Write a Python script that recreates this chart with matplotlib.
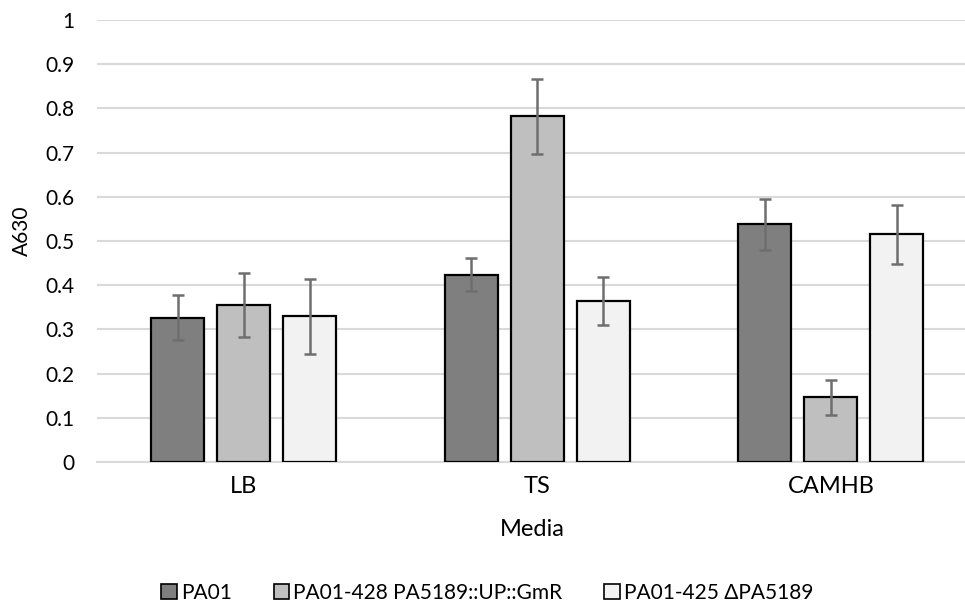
import numpy as np
import matplotlib.pyplot as plt
from matplotlib.patches import Patch

plt.rcParams['font.family'] = ['Lato', 'DejaVu Sans']

media = ['LB', 'TS', 'CAMHB']
strains = ['PA01', 'PA01-428 PA5189::UP::GmR', 'PA01-425 \u0394PA5189']
pa01 = [0.326, 0.424, 0.538]
pa01_428 = [0.355, 0.782, 0.146]
pa01_425 = [0.330, 0.364, 0.515]
err_pa01 = [0.051, 0.038, 0.058]
err_428 = [0.073, 0.085, 0.040]
err_425 = [0.085, 0.055, 0.067]
yticks = [0, 0.1, 0.2, 0.3, 0.4, 0.5, 0.6, 0.7, 0.8, 0.9, 1]

colors = ['#7f7f7f', '#bfbfbf', '#f2f2f2']


def main():
    fig = plt.figure(figsize=(9.65, 6.06), dpi=100)
    # plot area runs to the right edge of the picture
    ax = fig.add_axes([0.1005, 0.2376, 0.8995, 0.7294])

    x = np.arange(len(media))
    width = 0.181
    step = 0.225
    values = [pa01, pa01_428, pa01_425]
    errors = [err_pa01, err_428, err_425]

    for i in range(3):
        ax.bar(x + (i - 1) * step, values[i], width, color=colors[i],
               edgecolor='black', linewidth=1.6, zorder=3)
        ax.errorbar(x + (i - 1) * step, values[i], yerr=errors[i], fmt='none',
                    ecolor='#6e6e6e', elinewidth=1.8, capsize=4.5, capthick=1.8,
                    zorder=4)

    ax.set_ylim(0, 1)
    ax.set_xlim(-0.5, 2.457)
    ax.set_yticks(yticks)
    ax.set_yticklabels(['0' if t == 0 else ('1' if t == 1 else f'{t:.1f}') for t in yticks])
    ax.yaxis.grid(True, color='#d9d9d9', linewidth=1.5, zorder=0)
    ax.set_axisbelow(True)
    for s in ['top', 'right', 'left']:
        ax.spines[s].set_visible(False)
    ax.spines['bottom'].set_color('#d9d9d9')
    ax.spines['bottom'].set_linewidth(1.5)
    ax.tick_params(axis='both', length=0, colors='black')
    ax.tick_params(axis='y', labelsize=15, pad=16.5)
    ax.tick_params(axis='x', labelsize=17, pad=10)
    ax.set_xticks(x)
    ax.set_xticklabels(media)

    ax.set_xlabel('Media', fontsize=17)
    ax.xaxis.set_label_coords(0.501, -0.13)
    ax.set_ylabel('A630', fontsize=15)
    ax.yaxis.set_label_coords(-0.075, 0.523)

    handles = [Patch(facecolor=colors[i], edgecolor='black', linewidth=1.2)
               for i in range(3)]
    fig.legend(handles, strains, loc='center', ncol=3, frameon=False,
               fontsize=15, bbox_to_anchor=(0.505, 0.0215), handlelength=0.75,
               handleheight=0.75, handletextpad=0.2, columnspacing=2.0)

    fig.savefig('out.png', dpi=100)


if __name__ == "__main__":
    main()
